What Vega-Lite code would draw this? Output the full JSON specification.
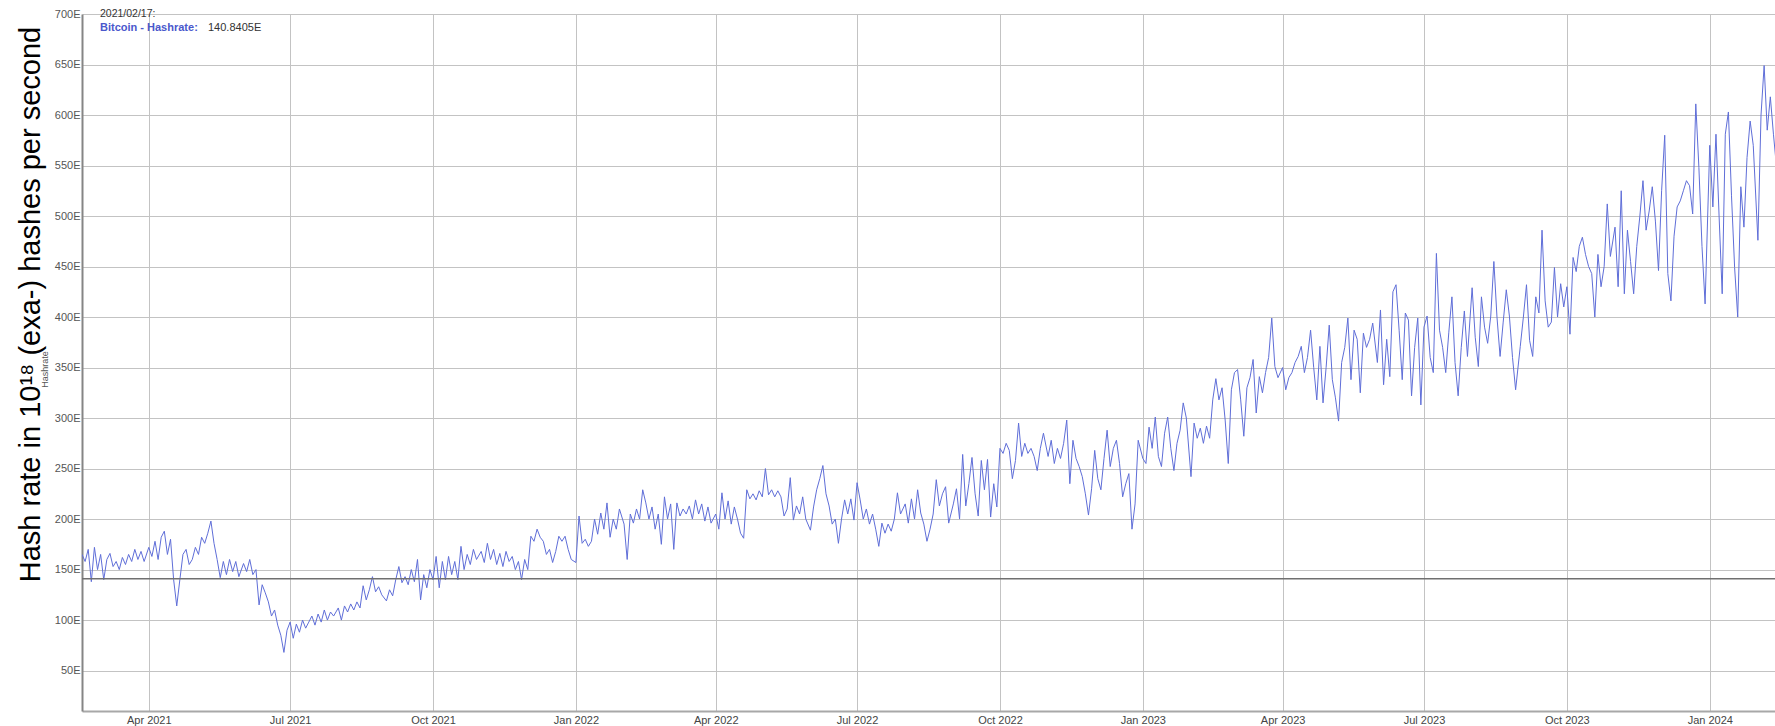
{
"$schema": "https://vega.github.io/schema/vega-lite/v6.json",
"width": 1693, "height": 697,
"autosize": {"type": "none"},
"padding": {"left": 82, "top": 14, "right": 0, "bottom": 15},
"background": "white",
"config": {"view": {"stroke": null}, "font": "Liberation Sans"},
"title": {"text": "Hash rate in 10¹⁸ (exa-) hashes per second", "orient": "left", "anchor": "middle", "fontSize": 29, "fontWeight": "normal", "color": "#000000", "font": "Liberation Sans", "offset": -6, "dx": 58},
"datasets": {
"hash": [
{"d":"2021-02-17","v":165},{"d":"2021-02-19","v":158},{"d":"2021-02-21","v":170},{"d":"2021-02-23","v":138},{"d":"2021-02-25","v":172},{"d":"2021-02-27","v":150},
{"d":"2021-03-01","v":165},{"d":"2021-03-03","v":140},{"d":"2021-03-05","v":160},{"d":"2021-03-07","v":166},{"d":"2021-03-09","v":153},{"d":"2021-03-11","v":158},{"d":"2021-03-13","v":150},{"d":"2021-03-15","v":162},{"d":"2021-03-17","v":155},{"d":"2021-03-19","v":165},{"d":"2021-03-21","v":158},{"d":"2021-03-23","v":170},{"d":"2021-03-25","v":160},{"d":"2021-03-27","v":168},{"d":"2021-03-29","v":158},
{"d":"2021-04-01","v":172},{"d":"2021-04-03","v":163},{"d":"2021-04-05","v":178},{"d":"2021-04-07","v":160},{"d":"2021-04-09","v":182},{"d":"2021-04-11","v":188},{"d":"2021-04-13","v":165},{"d":"2021-04-15","v":180},{"d":"2021-04-17","v":140},{"d":"2021-04-19","v":114},{"d":"2021-04-21","v":140},{"d":"2021-04-23","v":165},{"d":"2021-04-25","v":170},{"d":"2021-04-27","v":155},{"d":"2021-04-29","v":160},
{"d":"2021-05-01","v":172},{"d":"2021-05-03","v":165},{"d":"2021-05-05","v":182},{"d":"2021-05-07","v":176},{"d":"2021-05-09","v":186},{"d":"2021-05-11","v":198},{"d":"2021-05-13","v":176},{"d":"2021-05-15","v":160},{"d":"2021-05-17","v":142},{"d":"2021-05-19","v":158},{"d":"2021-05-21","v":145},{"d":"2021-05-23","v":160},{"d":"2021-05-25","v":148},{"d":"2021-05-27","v":158},{"d":"2021-05-29","v":143},
{"d":"2021-06-01","v":156},{"d":"2021-06-03","v":148},{"d":"2021-06-05","v":160},{"d":"2021-06-07","v":145},{"d":"2021-06-09","v":150},{"d":"2021-06-11","v":115},{"d":"2021-06-13","v":135},{"d":"2021-06-15","v":127},{"d":"2021-06-17","v":118},{"d":"2021-06-19","v":104},{"d":"2021-06-21","v":110},{"d":"2021-06-23","v":95},{"d":"2021-06-25","v":85},{"d":"2021-06-27","v":68},{"d":"2021-06-29","v":90},
{"d":"2021-07-01","v":98},{"d":"2021-07-03","v":82},{"d":"2021-07-05","v":96},{"d":"2021-07-07","v":88},{"d":"2021-07-09","v":100},{"d":"2021-07-11","v":92},{"d":"2021-07-13","v":98},{"d":"2021-07-15","v":104},{"d":"2021-07-17","v":95},{"d":"2021-07-19","v":106},{"d":"2021-07-21","v":98},{"d":"2021-07-23","v":110},{"d":"2021-07-25","v":100},{"d":"2021-07-27","v":108},{"d":"2021-07-29","v":104},
{"d":"2021-08-01","v":112},{"d":"2021-08-03","v":100},{"d":"2021-08-05","v":114},{"d":"2021-08-07","v":108},{"d":"2021-08-09","v":116},{"d":"2021-08-11","v":110},{"d":"2021-08-13","v":118},{"d":"2021-08-15","v":112},{"d":"2021-08-17","v":134},{"d":"2021-08-19","v":120},{"d":"2021-08-21","v":130},{"d":"2021-08-23","v":143},{"d":"2021-08-25","v":128},{"d":"2021-08-27","v":133},{"d":"2021-08-29","v":125},
{"d":"2021-09-01","v":119},{"d":"2021-09-03","v":130},{"d":"2021-09-05","v":124},{"d":"2021-09-07","v":140},{"d":"2021-09-09","v":153},{"d":"2021-09-11","v":137},{"d":"2021-09-13","v":143},{"d":"2021-09-15","v":135},{"d":"2021-09-17","v":150},{"d":"2021-09-19","v":138},{"d":"2021-09-21","v":160},{"d":"2021-09-23","v":120},{"d":"2021-09-25","v":145},{"d":"2021-09-27","v":132},{"d":"2021-09-29","v":150},
{"d":"2021-10-01","v":140},{"d":"2021-10-03","v":163},{"d":"2021-10-05","v":132},{"d":"2021-10-07","v":158},{"d":"2021-10-09","v":140},{"d":"2021-10-11","v":163},{"d":"2021-10-13","v":145},{"d":"2021-10-15","v":158},{"d":"2021-10-17","v":140},{"d":"2021-10-19","v":173},{"d":"2021-10-21","v":150},{"d":"2021-10-23","v":165},{"d":"2021-10-25","v":155},{"d":"2021-10-27","v":170},{"d":"2021-10-29","v":160},
{"d":"2021-11-01","v":168},{"d":"2021-11-03","v":157},{"d":"2021-11-05","v":176},{"d":"2021-11-07","v":160},{"d":"2021-11-09","v":170},{"d":"2021-11-11","v":155},{"d":"2021-11-13","v":166},{"d":"2021-11-15","v":153},{"d":"2021-11-17","v":168},{"d":"2021-11-19","v":158},{"d":"2021-11-21","v":163},{"d":"2021-11-23","v":150},{"d":"2021-11-25","v":158},{"d":"2021-11-27","v":140},{"d":"2021-11-29","v":160},
{"d":"2021-12-01","v":150},{"d":"2021-12-03","v":183},{"d":"2021-12-05","v":178},{"d":"2021-12-07","v":190},{"d":"2021-12-09","v":182},{"d":"2021-12-11","v":178},{"d":"2021-12-13","v":165},{"d":"2021-12-15","v":170},{"d":"2021-12-17","v":157},{"d":"2021-12-19","v":168},{"d":"2021-12-21","v":183},{"d":"2021-12-23","v":178},{"d":"2021-12-25","v":183},{"d":"2021-12-27","v":170},{"d":"2021-12-29","v":160},
{"d":"2022-01-01","v":157},{"d":"2022-01-03","v":203},{"d":"2022-01-05","v":176},{"d":"2022-01-07","v":180},{"d":"2022-01-09","v":173},{"d":"2022-01-11","v":178},{"d":"2022-01-13","v":200},{"d":"2022-01-15","v":185},{"d":"2022-01-17","v":206},{"d":"2022-01-19","v":190},{"d":"2022-01-21","v":216},{"d":"2022-01-23","v":182},{"d":"2022-01-25","v":200},{"d":"2022-01-27","v":190},{"d":"2022-01-29","v":210},
{"d":"2022-02-01","v":195},{"d":"2022-02-03","v":160},{"d":"2022-02-05","v":205},{"d":"2022-02-07","v":196},{"d":"2022-02-09","v":210},{"d":"2022-02-11","v":200},{"d":"2022-02-13","v":229},{"d":"2022-02-15","v":216},{"d":"2022-02-17","v":200},{"d":"2022-02-19","v":212},{"d":"2022-02-21","v":190},{"d":"2022-02-23","v":205},{"d":"2022-02-25","v":175},{"d":"2022-02-27","v":222},
{"d":"2022-03-01","v":200},{"d":"2022-03-03","v":215},{"d":"2022-03-05","v":170},{"d":"2022-03-07","v":216},{"d":"2022-03-09","v":203},{"d":"2022-03-11","v":210},{"d":"2022-03-13","v":205},{"d":"2022-03-15","v":213},{"d":"2022-03-17","v":200},{"d":"2022-03-19","v":219},{"d":"2022-03-21","v":205},{"d":"2022-03-23","v":215},{"d":"2022-03-25","v":198},{"d":"2022-03-27","v":212},{"d":"2022-03-29","v":196},
{"d":"2022-04-01","v":205},{"d":"2022-04-03","v":190},{"d":"2022-04-05","v":226},{"d":"2022-04-07","v":200},{"d":"2022-04-09","v":218},{"d":"2022-04-11","v":195},{"d":"2022-04-13","v":212},{"d":"2022-04-15","v":200},{"d":"2022-04-17","v":186},{"d":"2022-04-19","v":181},{"d":"2022-04-21","v":229},{"d":"2022-04-23","v":220},{"d":"2022-04-25","v":225},{"d":"2022-04-27","v":219},{"d":"2022-04-29","v":228},
{"d":"2022-05-01","v":222},{"d":"2022-05-03","v":250},{"d":"2022-05-05","v":224},{"d":"2022-05-07","v":229},{"d":"2022-05-09","v":222},{"d":"2022-05-11","v":228},{"d":"2022-05-13","v":222},{"d":"2022-05-15","v":203},{"d":"2022-05-17","v":210},{"d":"2022-05-19","v":241},{"d":"2022-05-21","v":199},{"d":"2022-05-23","v":213},{"d":"2022-05-25","v":205},{"d":"2022-05-27","v":222},{"d":"2022-05-29","v":200},
{"d":"2022-06-01","v":189},{"d":"2022-06-03","v":212},{"d":"2022-06-05","v":229},{"d":"2022-06-07","v":240},{"d":"2022-06-09","v":253},{"d":"2022-06-11","v":225},{"d":"2022-06-13","v":213},{"d":"2022-06-15","v":195},{"d":"2022-06-17","v":200},{"d":"2022-06-19","v":176},{"d":"2022-06-21","v":200},{"d":"2022-06-23","v":219},{"d":"2022-06-25","v":205},{"d":"2022-06-27","v":220},{"d":"2022-06-29","v":199},
{"d":"2022-07-01","v":236},{"d":"2022-07-03","v":219},{"d":"2022-07-05","v":200},{"d":"2022-07-07","v":210},{"d":"2022-07-09","v":195},{"d":"2022-07-11","v":205},{"d":"2022-07-13","v":190},{"d":"2022-07-15","v":173},{"d":"2022-07-17","v":196},{"d":"2022-07-19","v":186},{"d":"2022-07-21","v":195},{"d":"2022-07-23","v":188},{"d":"2022-07-25","v":200},{"d":"2022-07-27","v":226},{"d":"2022-07-29","v":205},
{"d":"2022-08-01","v":215},{"d":"2022-08-03","v":196},{"d":"2022-08-05","v":220},{"d":"2022-08-07","v":200},{"d":"2022-08-09","v":229},{"d":"2022-08-11","v":206},{"d":"2022-08-13","v":195},{"d":"2022-08-15","v":178},{"d":"2022-08-17","v":190},{"d":"2022-08-19","v":205},{"d":"2022-08-21","v":239},{"d":"2022-08-23","v":213},{"d":"2022-08-25","v":225},{"d":"2022-08-27","v":232},{"d":"2022-08-29","v":196},
{"d":"2022-09-01","v":215},{"d":"2022-09-03","v":230},{"d":"2022-09-05","v":200},{"d":"2022-09-07","v":264},{"d":"2022-09-09","v":213},{"d":"2022-09-11","v":235},{"d":"2022-09-13","v":261},{"d":"2022-09-15","v":225},{"d":"2022-09-17","v":203},{"d":"2022-09-19","v":258},{"d":"2022-09-21","v":229},{"d":"2022-09-23","v":259},{"d":"2022-09-25","v":202},{"d":"2022-09-27","v":235},{"d":"2022-09-29","v":212},
{"d":"2022-10-01","v":270},{"d":"2022-10-03","v":265},{"d":"2022-10-05","v":275},{"d":"2022-10-07","v":268},{"d":"2022-10-09","v":240},{"d":"2022-10-11","v":258},{"d":"2022-10-13","v":295},{"d":"2022-10-15","v":262},{"d":"2022-10-17","v":275},{"d":"2022-10-19","v":265},{"d":"2022-10-21","v":270},{"d":"2022-10-23","v":262},{"d":"2022-10-25","v":248},{"d":"2022-10-27","v":270},{"d":"2022-10-29","v":285},
{"d":"2022-11-01","v":262},{"d":"2022-11-03","v":278},{"d":"2022-11-05","v":255},{"d":"2022-11-07","v":270},{"d":"2022-11-09","v":260},{"d":"2022-11-11","v":275},{"d":"2022-11-13","v":298},{"d":"2022-11-15","v":235},{"d":"2022-11-17","v":278},{"d":"2022-11-19","v":260},{"d":"2022-11-21","v":252},{"d":"2022-11-23","v":242},{"d":"2022-11-25","v":225},{"d":"2022-11-27","v":204},{"d":"2022-11-29","v":230},
{"d":"2022-12-01","v":268},{"d":"2022-12-03","v":240},{"d":"2022-12-05","v":229},{"d":"2022-12-07","v":260},{"d":"2022-12-09","v":288},{"d":"2022-12-11","v":252},{"d":"2022-12-13","v":270},{"d":"2022-12-15","v":278},{"d":"2022-12-17","v":255},{"d":"2022-12-19","v":222},{"d":"2022-12-21","v":235},{"d":"2022-12-23","v":245},{"d":"2022-12-25","v":190},{"d":"2022-12-27","v":215},{"d":"2022-12-29","v":278},
{"d":"2023-01-01","v":260},{"d":"2023-01-03","v":255},{"d":"2023-01-05","v":291},{"d":"2023-01-07","v":270},{"d":"2023-01-09","v":301},{"d":"2023-01-11","v":262},{"d":"2023-01-13","v":252},{"d":"2023-01-15","v":285},{"d":"2023-01-17","v":301},{"d":"2023-01-19","v":270},{"d":"2023-01-21","v":248},{"d":"2023-01-23","v":275},{"d":"2023-01-25","v":288},{"d":"2023-01-27","v":315},{"d":"2023-01-29","v":300},
{"d":"2023-02-01","v":242},{"d":"2023-02-03","v":295},{"d":"2023-02-05","v":280},{"d":"2023-02-07","v":290},{"d":"2023-02-09","v":275},{"d":"2023-02-11","v":292},{"d":"2023-02-13","v":280},{"d":"2023-02-15","v":318},{"d":"2023-02-17","v":339},{"d":"2023-02-19","v":318},{"d":"2023-02-21","v":330},{"d":"2023-02-23","v":298},{"d":"2023-02-25","v":255},{"d":"2023-02-27","v":328},
{"d":"2023-03-01","v":345},{"d":"2023-03-03","v":348},{"d":"2023-03-05","v":318},{"d":"2023-03-07","v":282},{"d":"2023-03-09","v":330},{"d":"2023-03-11","v":340},{"d":"2023-03-13","v":358},{"d":"2023-03-15","v":305},{"d":"2023-03-17","v":341},{"d":"2023-03-19","v":325},{"d":"2023-03-21","v":345},{"d":"2023-03-23","v":360},{"d":"2023-03-25","v":399},{"d":"2023-03-27","v":351},{"d":"2023-03-29","v":340},
{"d":"2023-04-01","v":350},{"d":"2023-04-03","v":328},{"d":"2023-04-05","v":340},{"d":"2023-04-07","v":345},{"d":"2023-04-09","v":355},{"d":"2023-04-11","v":361},{"d":"2023-04-13","v":371},{"d":"2023-04-15","v":345},{"d":"2023-04-17","v":360},{"d":"2023-04-19","v":387},{"d":"2023-04-21","v":350},{"d":"2023-04-23","v":318},{"d":"2023-04-25","v":371},{"d":"2023-04-27","v":315},{"d":"2023-04-29","v":350},
{"d":"2023-05-01","v":392},{"d":"2023-05-03","v":338},{"d":"2023-05-05","v":320},{"d":"2023-05-07","v":297},{"d":"2023-05-09","v":355},{"d":"2023-05-11","v":370},{"d":"2023-05-13","v":399},{"d":"2023-05-15","v":338},{"d":"2023-05-17","v":387},{"d":"2023-05-19","v":378},{"d":"2023-05-21","v":325},{"d":"2023-05-23","v":384},{"d":"2023-05-25","v":370},{"d":"2023-05-27","v":378},{"d":"2023-05-29","v":394},
{"d":"2023-06-01","v":355},{"d":"2023-06-03","v":407},{"d":"2023-06-05","v":333},{"d":"2023-06-07","v":378},{"d":"2023-06-09","v":341},{"d":"2023-06-11","v":425},{"d":"2023-06-13","v":432},{"d":"2023-06-15","v":387},{"d":"2023-06-17","v":338},{"d":"2023-06-19","v":404},{"d":"2023-06-21","v":397},{"d":"2023-06-23","v":322},{"d":"2023-06-25","v":370},{"d":"2023-06-27","v":399},{"d":"2023-06-29","v":313},
{"d":"2023-07-01","v":390},{"d":"2023-07-03","v":401},{"d":"2023-07-05","v":360},{"d":"2023-07-07","v":345},{"d":"2023-07-09","v":463},{"d":"2023-07-11","v":387},{"d":"2023-07-13","v":370},{"d":"2023-07-15","v":345},{"d":"2023-07-17","v":385},{"d":"2023-07-19","v":420},{"d":"2023-07-21","v":355},{"d":"2023-07-23","v":322},{"d":"2023-07-25","v":370},{"d":"2023-07-27","v":406},{"d":"2023-07-29","v":361},
{"d":"2023-08-01","v":429},{"d":"2023-08-03","v":380},{"d":"2023-08-05","v":351},{"d":"2023-08-07","v":420},{"d":"2023-08-09","v":390},{"d":"2023-08-11","v":374},{"d":"2023-08-13","v":401},{"d":"2023-08-15","v":455},{"d":"2023-08-17","v":400},{"d":"2023-08-19","v":361},{"d":"2023-08-21","v":395},{"d":"2023-08-23","v":427},{"d":"2023-08-25","v":401},{"d":"2023-08-27","v":360},{"d":"2023-08-29","v":328},
{"d":"2023-09-01","v":371},{"d":"2023-09-03","v":400},{"d":"2023-09-05","v":432},{"d":"2023-09-07","v":377},{"d":"2023-09-09","v":361},{"d":"2023-09-11","v":420},{"d":"2023-09-13","v":404},{"d":"2023-09-15","v":486},{"d":"2023-09-17","v":416},{"d":"2023-09-19","v":390},{"d":"2023-09-21","v":395},{"d":"2023-09-23","v":449},{"d":"2023-09-25","v":400},{"d":"2023-09-27","v":433},{"d":"2023-09-29","v":410},
{"d":"2023-10-01","v":430},{"d":"2023-10-03","v":383},{"d":"2023-10-05","v":459},{"d":"2023-10-07","v":445},{"d":"2023-10-09","v":470},{"d":"2023-10-11","v":479},{"d":"2023-10-13","v":462},{"d":"2023-10-15","v":450},{"d":"2023-10-17","v":443},{"d":"2023-10-19","v":400},{"d":"2023-10-21","v":462},{"d":"2023-10-23","v":430},{"d":"2023-10-25","v":450},{"d":"2023-10-27","v":512},{"d":"2023-10-29","v":460},
{"d":"2023-11-01","v":489},{"d":"2023-11-03","v":430},{"d":"2023-11-05","v":525},{"d":"2023-11-07","v":423},{"d":"2023-11-09","v":486},{"d":"2023-11-11","v":455},{"d":"2023-11-13","v":423},{"d":"2023-11-15","v":470},{"d":"2023-11-17","v":500},{"d":"2023-11-19","v":535},{"d":"2023-11-21","v":486},{"d":"2023-11-23","v":505},{"d":"2023-11-25","v":529},{"d":"2023-11-27","v":495},{"d":"2023-11-29","v":446},
{"d":"2023-12-01","v":525},{"d":"2023-12-03","v":580},{"d":"2023-12-05","v":443},{"d":"2023-12-07","v":416},{"d":"2023-12-09","v":480},{"d":"2023-12-11","v":509},{"d":"2023-12-13","v":515},{"d":"2023-12-15","v":525},{"d":"2023-12-17","v":535},{"d":"2023-12-19","v":530},{"d":"2023-12-21","v":502},{"d":"2023-12-23","v":611},{"d":"2023-12-25","v":548},{"d":"2023-12-27","v":470},{"d":"2023-12-29","v":413},
{"d":"2024-01-01","v":570},{"d":"2024-01-03","v":509},{"d":"2024-01-05","v":581},{"d":"2024-01-07","v":500},{"d":"2024-01-09","v":423},{"d":"2024-01-11","v":581},{"d":"2024-01-13","v":603},{"d":"2024-01-15","v":520},{"d":"2024-01-17","v":449},{"d":"2024-01-19","v":400},{"d":"2024-01-21","v":529},{"d":"2024-01-23","v":489},{"d":"2024-01-25","v":558},{"d":"2024-01-27","v":594},{"d":"2024-01-29","v":570},
{"d":"2024-02-01","v":476},{"d":"2024-02-03","v":600},{"d":"2024-02-05","v":649},{"d":"2024-02-07","v":585},{"d":"2024-02-09","v":618},{"d":"2024-02-11","v":581},{"d":"2024-02-13","v":548}
],
"cursor": [{"d":"2021-02-17","v":140.8405}]
},
"encoding": {
  "x": {"field": "d", "type": "temporal",
    "scale": {"type": "utc", "domain": [{"year": 2021, "month": 2, "date": 17, "utc": true}, {"year": 2024, "month": 2, "date": 12, "utc": true}]},
    "axis": {"title": null, "format": "%b %Y", "tickCount": {"interval": "month", "step": 3}, "grid": true, "gridColor": "#c3c3c3", "gridWidth": 1, "ticks": false, "domainColor": "#a8a8a8", "domainWidth": 2, "labelFontSize": 11, "labelColor": "#444444", "labelPadding": 3, "labelFlush": false, "labelOverlap": false}
  },
  "y": {"field": "v", "type": "quantitative",
    "scale": {"domain": [10, 700], "nice": false, "zero": false},
    "axis": {"title": "Hashrate", "values": [50,100,150,200,250,300,350,400,450,500,550,600,650,700], "labelExpr": "datum.value + 'E'", "grid": true, "gridColor": "#c3c3c3", "gridWidth": 1, "ticks": false, "domainColor": "#858585", "domainWidth": 2, "labelFontSize": 11, "labelColor": "#555555", "labelPadding": 2, "titleFontSize": 9, "titleFontWeight": "normal", "titleColor": "#555555", "titleX": -38, "titleY": 355, "titleBaseline": "middle", "titleAlign": "center", "titleAngle": -90}
  }
},
"layer": [
  {"data": {"name": "hash"}, "mark": {"type": "line", "color": "#5f6ed8", "strokeWidth": 1, "clip": true}},
  {"data": {"name": "cursor"}, "mark": {"type": "rule", "color": "#707070", "strokeWidth": 1.5}, "encoding": {"x": null, "y": {"field": "v", "type": "quantitative"}}},
  {"data": {"name": "cursor"}, "mark": {"type": "text", "text": "2021/02/17:", "align": "left", "baseline": "middle", "dx": 18, "fontSize": 10.5, "color": "#333333"}, "encoding": {"y": {"datum": 700}}},
  {"data": {"name": "cursor"}, "mark": {"type": "text", "text": "Bitcoin - Hashrate:", "align": "left", "baseline": "middle", "dx": 18, "dy": 14, "fontSize": 11, "fontWeight": "bold", "color": "#4a58cc"}, "encoding": {"y": {"datum": 700}}},
  {"data": {"name": "cursor"}, "mark": {"type": "text", "text": "140.8405E", "align": "left", "baseline": "middle", "dx": 126, "dy": 14, "fontSize": 11, "color": "#333333"}, "encoding": {"y": {"datum": 700}}}
]
}
